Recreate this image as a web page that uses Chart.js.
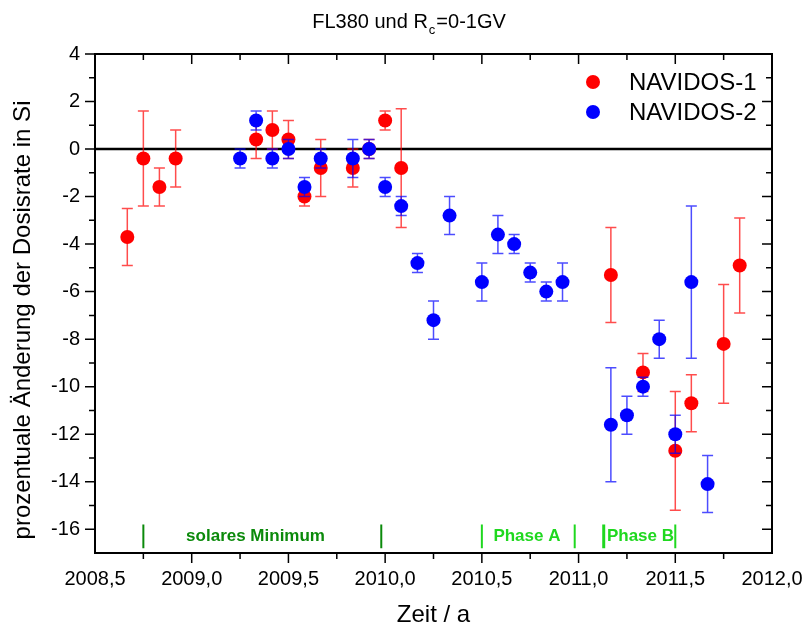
<!DOCTYPE html>
<html>
<head>
<meta charset="utf-8">
<script src="https://cdn.jsdelivr.net/npm/chart.js@4.4.1/dist/chart.umd.min.js"></script>
<style>
  html, body { margin: 0; padding: 0; background: #fff; }
  canvas { display: block; }
</style>
</head>
<body>
<canvas id="doseChart" width="805" height="628"></canvas>
<script>
// Tick values of both axes
const xTicks = [2008.5, 2009.0, 2009.5, 2010.0, 2010.5, 2011.0, 2011.5, 2012.0];
const yTicks = [-16, -14, -12, -10, -8, -6, -4, -2, 0, 2, 4];

// NAVIDOS-1 (red): time in years, change in %, error in %
const nav1Time = [2008.667, 2008.75, 2008.833, 2008.917, 2009.333, 2009.417, 2009.5, 2009.583,
  2009.667, 2009.833, 2009.917, 2010.0, 2010.083, 2011.167, 2011.333, 2011.5, 2011.583, 2011.75, 2011.833];
const nav1Change = [-3.7, -0.4, -1.6, -0.4, 0.4, 0.8, 0.4, -2.0,
  -0.8, -0.8, 0.0, 1.2, -0.8, -5.3, -9.4, -12.7, -10.7, -8.2, -4.9];
const nav1Err = [1.2, 2.0, 0.8, 1.2, 0.8, 0.8, 0.8, 0.4,
  1.2, 0.8, 0.4, 0.4, 2.5, 2.0, 0.8, 2.5, 1.2, 2.5, 2.0];

// NAVIDOS-2 (blue)
const nav2Time = [2009.25, 2009.333, 2009.417, 2009.5, 2009.583, 2009.667, 2009.833, 2009.917,
  2010.0, 2010.083, 2010.167, 2010.25, 2010.333, 2010.5, 2010.583, 2010.667, 2010.75, 2010.833,
  2010.917, 2011.167, 2011.25, 2011.333, 2011.417, 2011.5, 2011.583, 2011.667];
const nav2Change = [-0.4, 1.2, -0.4, 0.0, -1.6, -0.4, -0.4, 0.0,
  -1.6, -2.4, -4.8, -7.2, -2.8, -5.6, -3.6, -4.0, -5.2, -6.0,
  -5.6, -11.6, -11.2, -10.0, -8.0, -12.0, -5.6, -14.1];
const nav2Err = [0.4, 0.4, 0.4, 0.4, 0.4, 0.4, 0.8, 0.4,
  0.4, 0.4, 0.4, 0.8, 0.8, 0.8, 0.8, 0.4, 0.4, 0.4,
  0.8, 2.4, 0.8, 0.4, 0.8, 0.8, 3.2, 1.2];

// Period markers along the bottom (years) and their labels
const markerYears = [2008.75, 2009.98, 2010.5, 2010.98, 2011.13, 2011.5];
const markerGroup = ['min', 'min', 'phase', 'phase', 'phaseB', 'phase'];
const periodNames = ['solares Minimum', 'Phase A', 'Phase B'];
const periodCenters = [2009.33, 2010.733, 2011.32];
const periodGroup = ['min', 'phase', 'phase'];
const markerRange = [-15.8, -16.8];
const periodLabelY = -16.3;

const FONT = "'Liberation Sans', Arial, sans-serif";
const DARK_GREEN = '#0b8a0b';
const BRIGHT_GREEN = '#1fd81f';

function toPoints(xs, ys) {
  return xs.map((x, i) => ({ x: x, y: ys[i] }));
}

function formatYear(v) {
  return v.toFixed(1).replace('.', ',');
}

// error bars are drawn just before the points of each dataset
const errorBars = {
  id: 'errorBars',
  beforeDatasetDraw(chart, args) {
    const ds = chart.data.datasets[args.index];
    const yScale = chart.scales.y;
    const ctx = chart.ctx;
    ctx.save();
    ctx.strokeStyle = ds.errorColor;
    ctx.lineWidth = 1.5;
    args.meta.data.forEach((pt, i) => {
      const v = ds.data[i].y;
      const e = ds.errors[i];
      const top = yScale.getPixelForValue(v + e);
      const bot = yScale.getPixelForValue(v - e);
      ctx.beginPath();
      ctx.moveTo(pt.x, top); ctx.lineTo(pt.x, bot);
      ctx.moveTo(pt.x - 5.5, top); ctx.lineTo(pt.x + 5.5, top);
      ctx.moveTo(pt.x - 5.5, bot); ctx.lineTo(pt.x + 5.5, bot);
      ctx.stroke();
    });
    ctx.restore();
  }
};

const decorations = {
  id: 'decorations',
  beforeDatasetsDraw(chart) {
    const { ctx, chartArea: a, scales: { x, y } } = chart;
    ctx.save();
    // zero line
    const y0 = y.getPixelForValue(0);
    ctx.strokeStyle = '#000';
    ctx.lineWidth = 2.5;
    ctx.beginPath(); ctx.moveTo(a.left, y0); ctx.lineTo(a.right, y0); ctx.stroke();

    // period markers
    markerYears.forEach((yr, i) => {
      const px = x.getPixelForValue(yr);
      ctx.strokeStyle = markerGroup[i] === 'min' ? DARK_GREEN : BRIGHT_GREEN;
      ctx.lineWidth = markerGroup[i] === 'phaseB' ? 3 : 2;
      ctx.beginPath();
      ctx.moveTo(px, y.getPixelForValue(markerRange[0]));
      ctx.lineTo(px, y.getPixelForValue(markerRange[1]));
      ctx.stroke();
    });
    ctx.font = 'bold 17px ' + FONT;
    ctx.textAlign = 'center';
    ctx.textBaseline = 'middle';
    periodNames.forEach((name, i) => {
      ctx.fillStyle = periodGroup[i] === 'min' ? DARK_GREEN : BRIGHT_GREEN;
      ctx.fillText(name, x.getPixelForValue(periodCenters[i]), y.getPixelForValue(periodLabelY));
    });
    ctx.restore();
  },
  afterDraw(chart) {
    const { ctx, chartArea: a, scales: { x, y } } = chart;
    ctx.save();
    ctx.strokeStyle = '#000';
    ctx.lineWidth = 2;
    ctx.strokeRect(a.left, a.top, a.right - a.left, a.bottom - a.top);

    ctx.lineWidth = 1.5;
    ctx.beginPath();
    // x ticks every quarter year, longer on the labelled half years
    for (let k = 1; k < 14; k++) {
      const v = xTicks[0] + k * 0.25;
      const px = x.getPixelForValue(v);
      const len = k % 2 === 0 ? 10 : 6;
      ctx.moveTo(px, a.bottom); ctx.lineTo(px, a.bottom + len);
      ctx.moveTo(px, a.top); ctx.lineTo(px, a.top + len);
    }
    // y ticks every unit, longer on the labelled even values
    for (let v = -16; v <= 4; v++) {
      const py = y.getPixelForValue(v);
      const len = v % 2 === 0 ? 10 : 6;
      ctx.moveTo(a.left, py); ctx.lineTo(a.left - len, py);
      ctx.moveTo(a.right, py); ctx.lineTo(a.right - len, py);
    }
    ctx.stroke();

    // title with subscript
    ctx.fillStyle = '#000';
    ctx.textBaseline = 'alphabetic';
    ctx.textAlign = 'left';
    const t1 = 'FL380 und R', t2 = 'c', t3 = '=0-1GV';
    ctx.font = '20px ' + FONT;
    const w1 = ctx.measureText(t1).width, w3 = ctx.measureText(t3).width;
    ctx.font = '13px ' + FONT;
    const w2 = ctx.measureText(t2).width;
    let tx = 408 - (w1 + w2 + w3) / 2;
    ctx.font = '20px ' + FONT;
    ctx.fillText(t1, tx, 28);
    ctx.font = '13px ' + FONT;
    ctx.fillText(t2, tx + w1 + 1, 34);
    ctx.font = '20px ' + FONT;
    ctx.fillText(t3, tx + w1 + w2 + 2, 28);

    // axis titles
    ctx.font = '24px ' + FONT;
    ctx.textAlign = 'center';
    ctx.textBaseline = 'middle';
    ctx.fillText('Zeit / a', (a.left + a.right) / 2, 615);
    ctx.save();
    ctx.translate(23, 320);
    ctx.rotate(-Math.PI / 2);
    ctx.fillText('prozentuale \u00c4nderung der Dosisrate in Si', 0, 0);
    ctx.restore();

    // legend
    ctx.textAlign = 'left';
    chart.data.datasets.forEach((ds, i) => {
      const cy = 82 + i * 30;
      ctx.fillStyle = ds.backgroundColor;
      ctx.beginPath(); ctx.arc(593, cy, 7, 0, Math.PI * 2); ctx.fill();
      ctx.fillStyle = '#000';
      ctx.font = '24px ' + FONT;
      ctx.fillText(ds.label, 629, cy + 1);
    });
    ctx.restore();
  }
};

new Chart(document.getElementById('doseChart'), {
  type: 'scatter',
  data: {
    datasets: [
      {
        label: 'NAVIDOS-1',
        data: toPoints(nav1Time, nav1Change),
        errors: nav1Err,
        errorColor: 'rgba(255, 0, 0, 0.7)',
        backgroundColor: '#ff0000',
        pointRadius: 7,
        pointHoverRadius: 7,
        borderWidth: 0,
        order: 2
      },
      {
        label: 'NAVIDOS-2',
        data: toPoints(nav2Time, nav2Change),
        errors: nav2Err,
        errorColor: 'rgba(0, 0, 255, 0.7)',
        backgroundColor: '#0000ff',
        pointRadius: 7,
        pointHoverRadius: 7,
        borderWidth: 0,
        order: 1
      }
    ]
  },
  options: {
    responsive: false,
    animation: false,
    devicePixelRatio: 1,
    layout: { padding: { top: 54, right: 33, left: 0, bottom: 0 } },
    plugins: {
      legend: { display: false },
      title: { display: false },
      tooltip: { enabled: false }
    },
    scales: {
      x: {
        type: 'linear',
        min: 2008.5,
        max: 2012.0,
        afterBuildTicks: (scale) => { scale.ticks = xTicks.map(v => ({ value: v })); },
        afterFit: (scale) => {
          scale.height = 75;
          scale.paddingLeft = 0;
          scale.paddingRight = 0;
        },
        grid: { display: false, drawTicks: false },
        border: { display: false },
        ticks: {
          padding: 14,
          color: '#000',
          font: { family: FONT, size: 20 },
          maxRotation: 0,
          callback: (v) => formatYear(v)
        }
      },
      y: {
        type: 'linear',
        min: -17,
        max: 4,
        afterBuildTicks: (scale) => { scale.ticks = yTicks.map(v => ({ value: v })); },
        afterFit: (scale) => {
          scale.width = 95;
          scale.paddingTop = 0;
          scale.paddingBottom = 0;
        },
        grid: { display: false, drawTicks: false },
        border: { display: false },
        ticks: {
          padding: 15,
          color: '#000',
          font: { family: FONT, size: 20 },
          callback: (v) => String(v)
        }
      }
    }
  },
  plugins: [errorBars, decorations]
});
</script>
</body>
</html>
